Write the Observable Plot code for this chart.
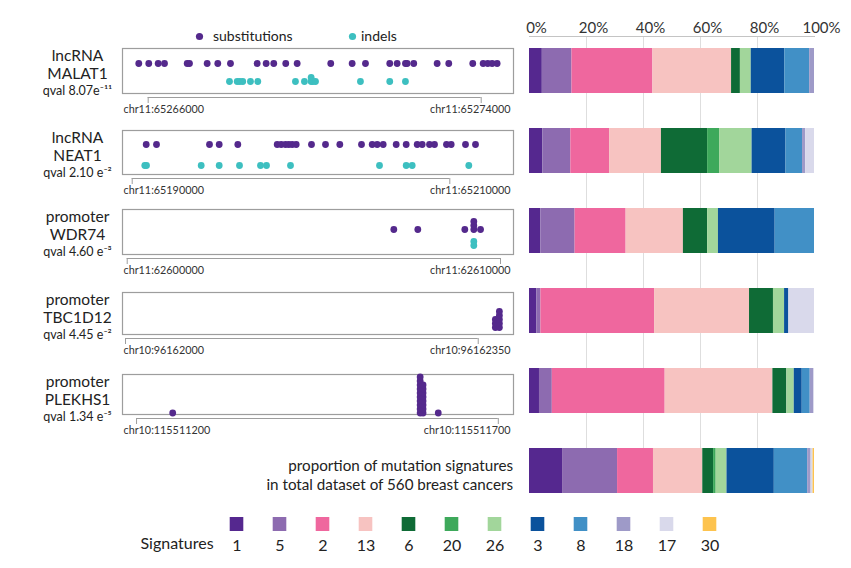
<!DOCTYPE html>
<html><head><meta charset="utf-8">
<script src="https://cdn.jsdelivr.net/npm/d3@7"></script>
<script src="https://cdn.jsdelivr.net/npm/@observablehq/plot@0.6"></script>
<style>
body{margin:0;background:#fff;font-family:Lato,"Open Sans",sans-serif;color:#222;}
#chart{position:relative;width:851px;height:568px;overflow:hidden;background:#fff;}
#chart > *{position:absolute;}
.cap{right:338px;top:456px;font-size:15.2px;line-height:19px;text-align:right;white-space:nowrap;}
.leg{top:27px;font-size:14px;line-height:18px;white-space:nowrap;}
</style></head><body><div id="chart"></div>
<script>
// ---------- colours ----------
const subColor = "#54298c", indelColor = "#3dbfc0";
// ---------- signatures ----------
const signatures = ["1","5","2","13","6","20","26","3","8","18","17","30"];
const sigColors  = ["#55288f","#8d6bb0","#ef679e","#f7c3c1","#0f6b36","#3ea95b","#a2d69b","#0b529c","#4190c6","#9e9ac8","#d9d9eb","#fdc34e"];
const barRows = ["MALAT1","NEAT1","WDR74","TBC1D12","PLEKHS1","total"];
const propMALAT1  = [4.5,10.4,28.4,27.6,3.1,0,3.8,11.8,8.7,1.7,0,0];
const propNEAT1   = [4.7,9.8,13.6,18.2,16.2,4.2,11.4,11.9,5.8,1.1,3.1,0];
const propWDR74   = [4.0,12.0,17.9,20.1,8.5,0,3.8,19.9,13.8,0,0,0];
const propTBC1D12 = [2.6,1.4,39.9,33.3,8.4,0,3.9,1.5,0,0,9.0,0];
const propPLEKHS1 = [3.5,4.5,39.6,37.8,4.9,0,2.6,2.8,2.8,1.2,0.3,0];
const propTotal   = [11.6,19.3,12.6,17.3,3.8,0.9,3.8,16.6,11.7,1.2,0.7,0.5];
const pctTicks = [0,20,40,60,80,100];

// ---------- mutation positions ----------
const malat1Subs = [65265774,65266014,65266240,65266392,65266937,65266992,65267417,65267672,65267977,65268618,65268834,65269017,65269305,65269579,65270386,65270900,65271220,65271803,65271981,65272180,65272221,65272380,65272942,65273221,65273797,65274047,65274157,65274263,65274383];
const malat1Indels = [65267953,65268138,65268200,65268272,65268457,65268633,65269538,65269754,65269915,65269915,65269954,65270019,65271099,65271803,65272180];
const neat1Subs = [65190882,65191530,65194868,65195478,65196650,65199131,65199382,65199653,65199861,65200075,65200327,65201290,65202172,65203073,65204439,65205113,65205428,65205805,65206624,65207254,65207946,65208261,65208721,65209036,65209791,65210087,65210988,65211618];
const neat1Indels = [65190793,65190900,65194345,65195478,65196757,65198079,65198457,65199968,65205573,65207254,65207632,65211196];
const wdr74Subs = [62607142,62607785,62609044,62609285,62609285,62609285,62609465];
const wdr74Indels = [62609285,62609285];
const tbc1d12Subs = [96162367,96162367,96162367,96162371,96162371,96162371,96162371,96162371];
const plekhs1Subs = [115511250,115511592,115511592,115511592,115511592,115511592,115511592,115511592,115511592,115511592,115511592,115511596,115511596,115511596,115511596,115511596,115511596,115511596,115511596,115511617];

// ---------- panel labels & ticks ----------
const geneNames = ["lncRNA\nMALAT1","lncRNA\nNEAT1","promoter\nWDR74","promoter\nTBC1D12","promoter\nPLEKHS1"];
const qvals = ["qval 8.07e⁻¹¹","qval 2.10 e⁻²","qval 4.60 e⁻³","qval 4.45 e⁻²","qval 1.34 e⁻⁵"];
const chroms = ["chr11","chr11","chr11","chr10","chr10"];
const tickPairs = [[65266000,65274000],[65190000,65210000],[62600000,62610000],[96162000,96162350],[115511200,115511700]];

// layout (not data)
const panels = [
  {subs:malat1Subs, indels:malat1Indels, domain:[65265383,65274776], top:48, h:45, subBase:15, indelBase:33},
  {subs:neat1Subs, indels:neat1Indels, domain:[65189389,65214011], top:130, h:44, subBase:14, indelBase:35},
  {subs:wdr74Subs, indels:wdr74Indels, domain:[62599874,62610348], top:209, h:45, subBase:20, indelBase:36},
  {subs:tbc1d12Subs, indels:[], domain:[96161997,96162385], top:292, h:42, subBase:35, indelBase:0},
  {subs:plekhs1Subs, indels:[], domain:[115511180.6,115511721], top:374, h:40, subBase:38.5, indelBase:0}
];
const STEP = 4, R = 3.4, FONT = "Lato, 'Open Sans', sans-serif";
const chart = document.getElementById("chart");

function stackRow(positions, type, base){
  const seen = new Map();
  return positions.map(p => { const k = seen.get(p) || 0; seen.set(p, k + 1); return {pos:p, type, y: base - k*STEP}; });
}

panels.forEach((cfg, i) => {
  const mt = 10, mb = 32;
  const pts = [...stackRow(cfg.subs, "substitutions", cfg.subBase), ...stackRow(cfg.indels, "indels", cfg.indelBase)];
  const ticks = tickPairs[i];
  const svg = Plot.plot({
    width: 520, height: mt + cfg.h + mb,
    marginLeft: 122, marginRight: 7, marginTop: mt, marginBottom: mb,
    x: {domain: cfg.domain, axis: null},
    y: {domain: [0, cfg.h], range: [mt, mt + cfg.h], axis: null},
    color: {domain: ["substitutions","indels"], range: [subColor, indelColor]},
    style: {fontFamily: FONT, background: "transparent", overflow: "visible", color: "#222"},
    marks: [
      Plot.frame({stroke: "#9d9d9d", strokeWidth: 1.2}),
      Plot.dot(pts, {x: "pos", y: "y", r: R, fill: "type", stroke: "none"}),
      Plot.ruleY([cfg.h + 4], {x1: ticks[0], x2: ticks[1], stroke: "#9d9d9d"}),
      Plot.ruleX(ticks, {y1: cfg.h + 4, y2: cfg.h + 10, stroke: "#9d9d9d"}),
      Plot.text([ticks[0]], {frameAnchor: "bottom-left", dx: 1, dy: 19, textAnchor: "start", text: d => chroms[i] + ":" + d, fontSize: 10.8, fill: "#333"}),
      Plot.text([ticks[1]], {frameAnchor: "bottom-right", dx: -3, dy: 19, textAnchor: "end", text: d => chroms[i] + ":" + d, fontSize: 10.8, fill: "#333"}),
      Plot.text([geneNames[i]], {frameAnchor: "left", y: 16, dx: -45, textAnchor: "middle", lineHeight: 1.17, fontSize: 15.5, fill: "#222"}),
      Plot.text([qvals[i]], {frameAnchor: "left", y: 42, dx: -45, textAnchor: "middle", fontSize: 12.5, fill: "#222"})
    ]
  });
  svg.style.left = "0px";
  svg.style.top = (cfg.top - mt) + "px";
  chart.appendChild(svg);
});

// ---------- legend for mutation types ----------
[["substitutions", subColor, 199, 213], ["indels", indelColor, 352, 361]].forEach(([label, col, cx, tx]) => {
  const d = document.createElement("div");
  d.className = "leg";
  d.style.left = (cx - 4) + "px";
  d.innerHTML = `<svg width="9" height="9" style="vertical-align:middle;margin-right:${tx - cx - 5}px;margin-top:-2px"><circle cx="4.5" cy="4.5" r="3.6" fill="${col}"/></svg>${label}`;
  chart.appendChild(d);
});

// ---------- stacked proportion bars ----------
const propsByRow = [propMALAT1, propNEAT1, propWDR74, propTBC1D12, propPLEKHS1, propTotal];
const barTable = barRows.flatMap((r, ri) => signatures.map((s, si) => ({row: r, sig: s, value: propsByRow[ri][si]})));
const bars = Plot.plot({
  width: 331, height: 493, marginLeft: 9, marginRight: 37, marginTop: 36, marginBottom: 0,
  x: {domain: [0, 100], axis: null},
  y: {type: "band", domain: barRows, range: [36, 493], paddingInner: 0.4375, paddingOuter: 0.075, align: 1, axis: null},
  color: {domain: signatures, range: sigColors},
  style: {fontFamily: FONT, background: "transparent", overflow: "visible"},
  marks: [
    Plot.ruleX([20, 40, 60, 80], {stroke: "#dedede"}),
    Plot.frame({anchor: "top", stroke: "#c4c4c4"}),
    Plot.text(pctTicks, {x: d => d, frameAnchor: "top", dy: -4, dx: 7, lineAnchor: "bottom", text: d => d + "%", fontSize: 15, fill: "#333"}),
    Plot.barX(barTable, Plot.stackX({x: "value", y: "row", fill: "sig", order: signatures}))
  ]
});
bars.style.left = "520px";
bars.style.top = "0px";
chart.appendChild(bars);

// ---------- caption for total bar ----------
const cap = document.createElement("div");
cap.className = "cap";
cap.innerHTML = "proportion of mutation signatures<br>in total dataset of 560 breast cancers";
chart.appendChild(cap);

// ---------- signature legend ----------
const legend = Plot.plot({
  width: 851, height: 63, margin: 0,
  x: {type: "band", domain: signatures, range: [212.3, 733.7], padding: 0, axis: null},
  y: {domain: [0, 63], range: [0, 63], axis: null},
  color: {domain: signatures, range: sigColors},
  style: {fontFamily: FONT, background: "transparent", overflow: "visible"},
  marks: [
    Plot.barY(signatures, {x: d => d, y1: 12, y2: 26, fill: d => d, insetLeft: 14.7, insetRight: 14.7}),
    Plot.text(signatures, {x: d => d, y: 40, text: d => d, fontSize: 16, fill: "#222"}),
    Plot.text(["Signatures"], {frameAnchor: "left", y: 38, dx: 140, textAnchor: "start", fontSize: 16, fill: "#222"})
  ]
});
legend.style.left = "0px";
legend.style.top = "505px";
chart.appendChild(legend);
</script></body></html>
